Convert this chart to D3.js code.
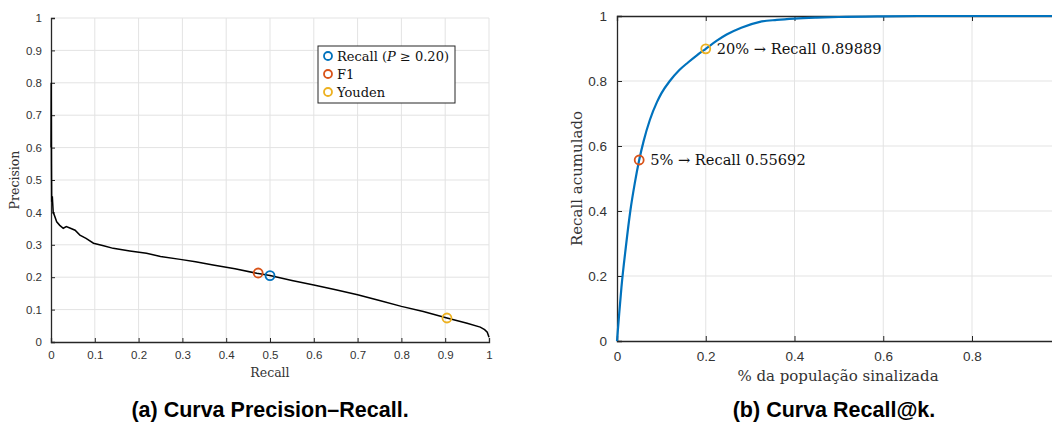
<!DOCTYPE html>
<html>
<head>
<meta charset="utf-8">
<script src="https://cdn.jsdelivr.net/npm/d3@7"></script>
<style>
  body { margin: 0; background: #fff; }
  svg text { font-family: "Liberation Sans", Arial, sans-serif; }
  .serif { font-family: "DejaVu Serif", "Liberation Serif", serif !important; }
</style>
</head>
<body>
<div id="chart"></div>
<script>
// precision-recall curve
var prRecall    = [0, 0.0005, 0.001, 0.0015, 0.003, 0.005, 0.008, 0.013, 0.02, 0.028, 0.035, 0.043, 0.055, 0.066, 0.08, 0.097, 0.12, 0.142, 0.18, 0.218, 0.25, 0.295, 0.33, 0.37, 0.42, 0.47, 0.5, 0.55, 0.6, 0.65, 0.7, 0.75, 0.8, 0.85, 0.904, 0.95, 0.98, 0.99, 0.996, 1];
var prPrecision = [0.6, 0.8, 0.55, 0.433, 0.45, 0.40, 0.39, 0.371, 0.36, 0.351, 0.356, 0.352, 0.345, 0.33, 0.32, 0.305, 0.297, 0.289, 0.281, 0.274, 0.264, 0.255, 0.248, 0.238, 0.226, 0.212, 0.205, 0.19, 0.176, 0.161, 0.146, 0.128, 0.11, 0.094, 0.074, 0.058, 0.046, 0.038, 0.03, 0.015];

var prMarkNames = ["Recall (P \u2265 0.20)", "F1", "Youden"];
var prMarkRecall = [0.5, 0.473, 0.904];
var prMarkPrecision = [0.205, 0.213, 0.074];

// recall@k curve
var rkK      = [0, 0.005, 0.01, 0.02, 0.03, 0.04, 0.05, 0.06, 0.074, 0.09, 0.1, 0.119, 0.14, 0.16, 0.18, 0.2, 0.225, 0.247, 0.28, 0.322, 0.36, 0.4, 0.45, 0.5, 0.6, 0.7, 0.8, 0.9, 1];
var rkRecall = [0, 0.085, 0.165, 0.29, 0.40, 0.485, 0.557, 0.615, 0.68, 0.735, 0.762, 0.80, 0.833, 0.857, 0.879, 0.899, 0.924, 0.943, 0.964, 0.982, 0.988, 0.992, 0.995, 0.997, 0.999, 1, 1, 1, 1];

var rkMarkK = [0.05, 0.2];
var rkMarkRecall = [0.55692, 0.89889];
var rkMarkLabels = ["5% \u2192 Recall 0.55692", "20% \u2192 Recall 0.89889"];

var ticksPR = [0, 0.1, 0.2, 0.3, 0.4, 0.5, 0.6, 0.7, 0.8, 0.9, 1];
var ticksRK = [0, 0.2, 0.4, 0.6, 0.8, 1];

var blue = "#0072BD", red = "#D95319", yellow = "#EDB120";
var markColors = [blue, red, yellow];

var svg = d3.select("#chart").append("svg").attr("width", 1052).attr("height", 423);

// ---------- left: precision-recall ----------
var x1 = d3.scaleLinear().domain([0, 1]).range([51, 489]);
var y1 = d3.scaleLinear().domain([0, 1]).range([342, 18]);
var g1 = svg.append("g");

g1.selectAll(".gx").data(ticksPR.slice(1)).enter().append("line")
  .attr("x1", d => x1(d)).attr("x2", d => x1(d)).attr("y1", y1(0)).attr("y2", y1(1))
  .attr("stroke", "#e3e3e3").attr("stroke-width", 1);
g1.selectAll(".gy").data(ticksPR.slice(1)).enter().append("line")
  .attr("x1", x1(0)).attr("x2", x1(1)).attr("y1", d => y1(d)).attr("y2", d => y1(d))
  .attr("stroke", "#e3e3e3").attr("stroke-width", 1);

var ax1 = g1.append("g").attr("transform", "translate(0," + y1(0) + ")")
  .call(d3.axisBottom(x1).tickValues(ticksPR).tickSize(-4).tickPadding(9).tickFormat(d3.format("")));
var ay1 = g1.append("g").attr("transform", "translate(" + x1(0) + ",0)")
  .call(d3.axisLeft(y1).tickValues(ticksPR).tickSize(-4).tickPadding(9).tickFormat(d3.format("")));
[ax1, ay1].forEach(function(a){
  a.select(".domain").attr("stroke", "#262626").attr("stroke-width", 1.3);
  a.selectAll(".tick line").attr("stroke", "#262626");
  a.selectAll("text").attr("font-size", 11.5).attr("fill", "#333").style("font-family", "Liberation Sans, Arial, sans-serif");
});

var line1 = d3.line().x(d => x1(d[0])).y(d => y1(d[1]));
g1.append("path").datum(d3.zip(prRecall, prPrecision))
  .attr("d", line1).attr("fill", "none").attr("stroke", "#000").attr("stroke-width", 1.5);

g1.selectAll(".pm").data(d3.range(prMarkRecall.length)).enter().append("circle")
  .attr("cx", i => x1(prMarkRecall[i])).attr("cy", i => y1(prMarkPrecision[i])).attr("r", 4.5)
  .attr("fill", "none").attr("stroke", i => markColors[i]).attr("stroke-width", 1.8);

g1.append("text").attr("class", "serif").attr("x", x1(0.5)).attr("y", 377)
  .attr("text-anchor", "middle").attr("font-size", 12.5).attr("fill", "#333").text("Recall");
g1.append("text").attr("class", "serif").attr("transform", "translate(19," + y1(0.5) + ") rotate(-90)")
  .attr("text-anchor", "middle").attr("font-size", 12.5).attr("fill", "#333").text("Precision");

// legend
var lg = g1.append("g").attr("transform", "translate(318,46)");
lg.append("rect").attr("width", 137).attr("height", 57).attr("fill", "#fff").attr("stroke", "#262626").attr("stroke-width", 1);
prMarkNames.forEach(function(n, i){
  var yy = 10 + i * 18;
  lg.append("circle").attr("cx", 10).attr("cy", yy).attr("r", 4).attr("fill", "none")
    .attr("stroke", markColors[i]).attr("stroke-width", 1.8);
  var t = lg.append("text").attr("class", "serif").attr("x", 19).attr("y", yy + 4.5).attr("font-size", 13).attr("fill", "#111");
  if (i === 0) {
    t.append("tspan").text("Recall (");
    t.append("tspan").attr("font-style", "italic").text("P");
    t.append("tspan").text(" \u2265 0.20)");
  } else {
    t.text(n);
  }
});

svg.append("text").attr("x", 270).attr("y", 417).attr("text-anchor", "middle")
  .attr("font-size", 21.5).attr("font-weight", "bold").attr("fill", "#000").text("(a) Curva Precision\u2013Recall.");

// ---------- right: recall@k ----------
var x2 = d3.scaleLinear().domain([0, 1]).range([617, 617 + 443.75]);
var y2 = d3.scaleLinear().domain([0, 1]).range([341, 16]);
var g2 = svg.append("g");

g2.selectAll(".gx").data(ticksRK.slice(1, 5)).enter().append("line")
  .attr("x1", d => x2(d)).attr("x2", d => x2(d)).attr("y1", y2(0)).attr("y2", y2(1))
  .attr("stroke", "#e3e3e3").attr("stroke-width", 1);
g2.selectAll(".gy").data(ticksRK.slice(1, 5)).enter().append("line")
  .attr("x1", x2(0)).attr("x2", 1052).attr("y1", d => y2(d)).attr("y2", d => y2(d))
  .attr("stroke", "#e3e3e3").attr("stroke-width", 1);

var ax2 = g2.append("g").attr("transform", "translate(0," + y2(0) + ")")
  .call(d3.axisBottom(x2).tickValues(ticksRK.slice(0, 5)).tickSize(-5).tickPadding(10).tickFormat(d3.format("")));
var axTop = g2.append("g").attr("transform", "translate(0," + y2(1) + ")")
  .call(d3.axisTop(x2).tickValues(ticksRK.slice(0, 5)).tickSize(-5).tickFormat(""));
var ay2 = g2.append("g").attr("transform", "translate(" + x2(0) + ",0)")
  .call(d3.axisLeft(y2).tickValues(ticksRK).tickSize(-5).tickPadding(10).tickFormat(d3.format("")));
[ax2, axTop, ay2].forEach(function(a){
  a.select(".domain").attr("stroke", "#262626").attr("stroke-width", 1.3);
  a.selectAll(".tick line").attr("stroke", "#262626");
  a.selectAll("text").attr("font-size", 13.5).attr("fill", "#333").style("font-family", "Liberation Sans, Arial, sans-serif");
});

var line2 = d3.line().curve(d3.curveMonotoneX).x(d => x2(d[0])).y(d => y2(d[1]));
g2.append("path").datum(d3.zip(rkK, rkRecall))
  .attr("d", line2).attr("fill", "none").attr("stroke", blue).attr("stroke-width", 2.2);

g2.selectAll(".rm").data(d3.range(rkMarkK.length)).enter().append("circle")
  .attr("cx", i => x2(rkMarkK[i])).attr("cy", i => y2(rkMarkRecall[i])).attr("r", 4.5)
  .attr("fill", "none").attr("stroke", (d, i) => [red, yellow][i]).attr("stroke-width", 1.8);
g2.selectAll(".rl").data(d3.range(rkMarkK.length)).enter().append("text")
  .attr("class", "serif").attr("x", i => x2(rkMarkK[i]) + 11).attr("y", i => y2(rkMarkRecall[i]) + 5)
  .attr("font-size", 14.6).attr("fill", "#111").text(i => rkMarkLabels[i]);

g2.append("text").attr("class", "serif").attr("x", 838).attr("y", 381)
  .attr("text-anchor", "middle").attr("font-size", 15).attr("fill", "#333").text("% da popula\u00e7\u00e3o sinalizada");
g2.append("text").attr("class", "serif").attr("transform", "translate(582," + y2(0.5) + ") rotate(-90)")
  .attr("text-anchor", "middle").attr("font-size", 15).attr("fill", "#333").text("Recall acumulado");

svg.append("text").attr("x", 834).attr("y", 417).attr("text-anchor", "middle")
  .attr("font-size", 21.5).attr("font-weight", "bold").attr("fill", "#000").text("(b) Curva Recall@k.");
</script>
</body>
</html>
